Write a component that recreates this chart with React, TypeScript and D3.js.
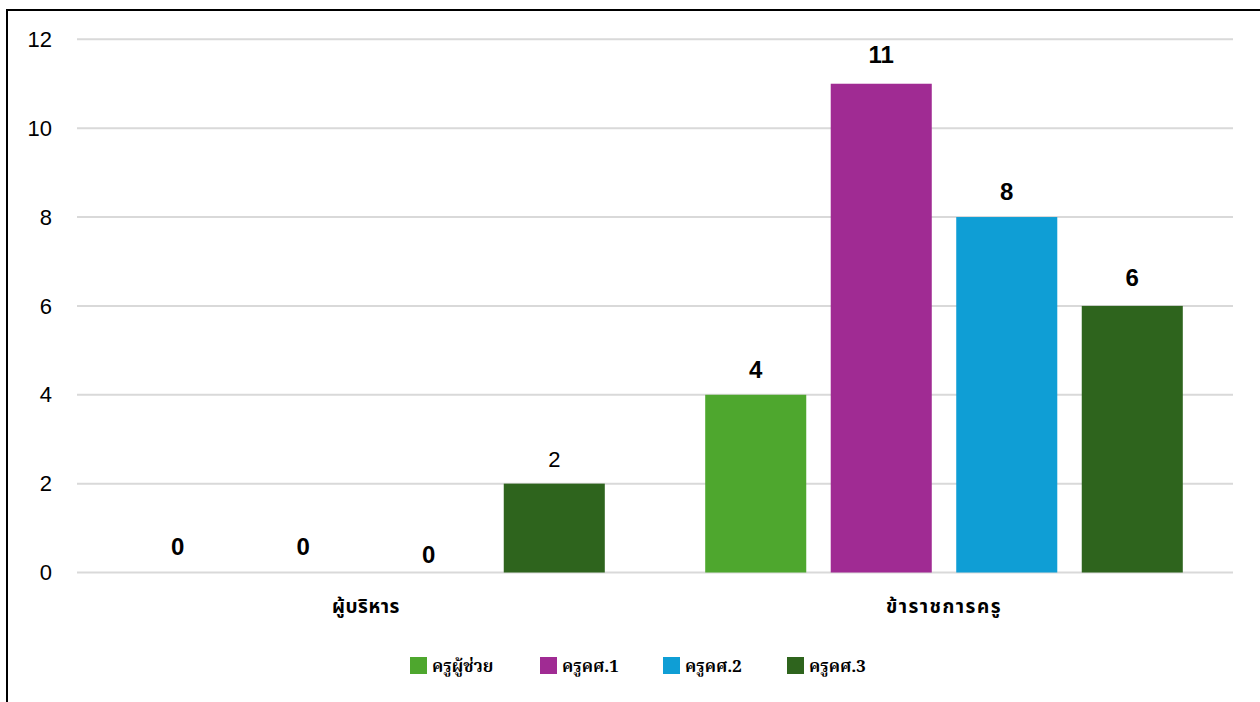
import React from "react";
import * as d3 from "d3";

const categories = ["ผู้บริหาร", "ข้าราชการครู"];
const seriesNames = ["ครูผู้ช่วย", "ครูคศ.1", "ครูคศ.2", "ครูคศ.3"];
const seriesColors = ["#4EA72E", "#A02B93", "#0F9ED5", "#2E641D"];
const valuesAdmin = [0, 0, 0, 2];
const valuesTeacher = [4, 11, 8, 6];
const yTicks = [0, 2, 4, 6, 8, 10, 12];
const labelBold = [
  [true, true, true, false],
  [true, true, true, true],
];
const labelGap = [
  [18, 18, 10, 17],
  [17, 21, 17, 20],
];

const W = 1260;
const H = 702;
const left = 77;
const right = 1233;
const top = 39.3;
const bottom = 572.5;

export default function App() {
  const values = [valuesAdmin, valuesTeacher];
  const y = d3.scaleLinear().domain([0, 12]).range([bottom, top]);
  const x0 = d3.scaleBand<string>().domain(categories).range([left, right]).paddingInner(0).paddingOuter(0);
  const x1 = d3
    .scaleBand<string>()
    .domain(seriesNames)
    .range([0, x0.bandwidth()])
    .paddingInner(0.195)
    .paddingOuter(0.4);

  const legendX = [410, 540, 663, 787];

  return (
    <svg
      width={W}
      height={H}
      style={{ position: "absolute", left: 0, top: 0, background: "#fff" }}
    >
      <rect x={0} y={0} width={W} height={H} fill="#fff" />
      <line x1={7} y1={9} x2={7} y2={H + 5} stroke="#000" strokeWidth={2} />
      <line x1={6} y1={10} x2={W + 5} y2={10} stroke="#000" strokeWidth={2} />

      {yTicks.map((t) => (
        <g key={t}>
          <line x1={left} x2={right} y1={y(t)} y2={y(t)} stroke="#d9d9d9" strokeWidth={2} />
          <text
            x={52}
            y={y(t)}
            dy="0.35em"
            textAnchor="end"
            fontFamily="'Liberation Sans', Arial, sans-serif"
            fontSize={22}
            fill="#000"
          >
            {t}
          </text>
        </g>
      ))}

      {categories.map((c, ci) => (
        <g key={c} transform={`translate(${x0(c)},0)`}>
          {seriesNames.map((s, si) => {
            const v = values[ci][si];
            const bx = x1(s)!;
            return (
              <g key={s}>
                {v > 0 && (
                  <rect
                    x={bx}
                    y={y(v)}
                    width={x1.bandwidth()}
                    height={y(0) - y(v)}
                    fill={seriesColors[si]}
                  />
                )}
                <text
                  x={bx + x1.bandwidth() / 2}
                  y={y(v) - labelGap[ci][si]}
                  textAnchor="middle"
                  fontFamily="'Liberation Sans', Arial, sans-serif"
                  fontWeight={labelBold[ci][si] ? "bold" : "normal"}
                  fontSize={labelBold[ci][si] ? 24 : 22}
                  fill="#000"
                >
                  {v}
                </text>
              </g>
            );
          })}
          <text
            x={x0.bandwidth() / 2}
            y={613}
            textAnchor="middle"
            fontFamily="Tahoma, 'Noto Sans Thai', 'Noto Sans', sans-serif"
            fontWeight="bold"
            fontSize={19}
            letterSpacing={ci === 1 ? 1.5 : 0.5}
            fill="#000"
          >
            {c}
          </text>
        </g>
      ))}

      {seriesNames.map((s, i) => (
        <g key={s} transform={`translate(${legendX[i]},657)`}>
          <rect x={0} y={0} width={17} height={17} fill={seriesColors[i]} />
          <text
            x={22}
            y={15}
            fontFamily="'Noto Serif Thai', 'Liberation Serif', serif"
            fontWeight="bold"
            fontSize={17}
            fill="#000"
          >
            {s}
          </text>
        </g>
      ))}
    </svg>
  );
}
